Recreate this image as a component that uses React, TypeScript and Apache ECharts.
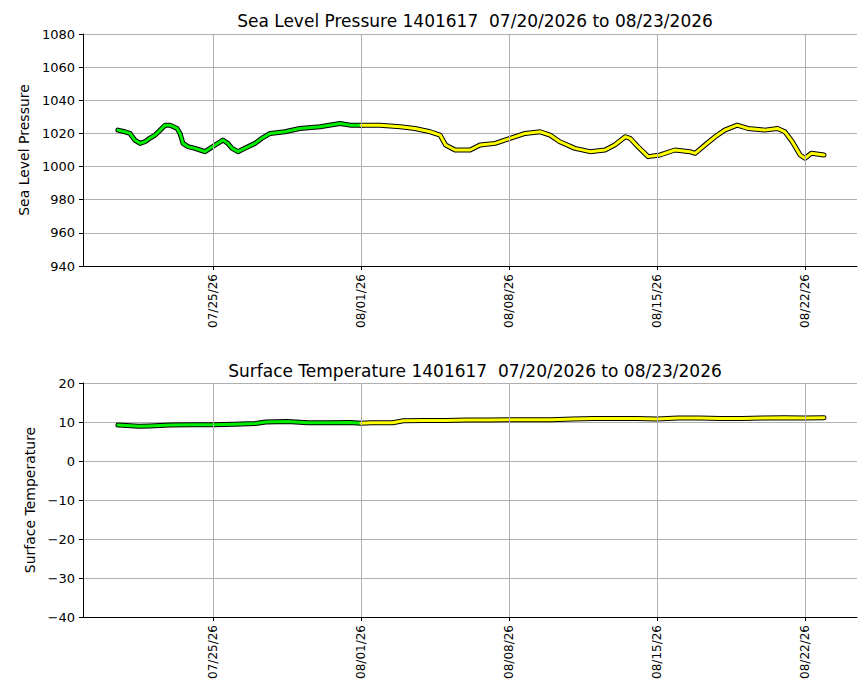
import React, { useEffect, useRef } from 'react';
import * as echarts from 'echarts';

// days since 07/20/2026 00:00
const pressDays = [0.5, 0.83, 1.07, 1.3, 1.55, 1.78, 2.0, 2.26, 2.5, 2.73, 2.97, 3.3, 3.44, 3.58, 3.82, 4.15, 4.39, 4.62, 4.86, 5.1, 5.47, 5.7, 5.9, 6.18, 6.5, 6.99, 7.3, 7.7, 8.4, 9.1, 10.06, 11.0, 11.48, 12.0, 12.9, 13.85, 14.55, 15.27, 15.74, 16.0, 16.45, 17.16, 17.63, 18.34, 19.05, 19.76, 20.47, 20.94, 21.4, 22.12, 22.83, 23.54, 24.0, 24.5, 24.73, 25.1, 25.58, 26.15, 26.85, 27.56, 27.8, 28.27, 28.75, 29.2, 29.79, 30.3, 31.1, 31.7, 32.05, 32.4, 32.77, 33.0, 33.3, 33.9];
const pressVals = [1022, 1021, 1020, 1016, 1014, 1015, 1017, 1019, 1022, 1025, 1025, 1023, 1020, 1014, 1012, 1011, 1010, 1009, 1011, 1013, 1016, 1014, 1011, 1009, 1011, 1014, 1017, 1020, 1021, 1023, 1024, 1026, 1025, 1025, 1025, 1024, 1023, 1021, 1019, 1013, 1010, 1010, 1013, 1014, 1017, 1020, 1021, 1019, 1015, 1011, 1009, 1010, 1013, 1018, 1017, 1012, 1006, 1007, 1010, 1009, 1008, 1013, 1018, 1022, 1025, 1023, 1022, 1023, 1021, 1015, 1007, 1005, 1008, 1007];
const tempDays = [0.5, 1.5, 2, 3, 4, 5, 6, 7, 7.5, 8.5, 9.5, 10.5, 11.5, 12, 12.5, 13.5, 14, 15, 16, 17, 18, 19, 20, 21, 22, 23, 24, 25, 26, 27, 28, 29, 30, 31, 32, 33, 33.9];
const tempVals = [9.2, 8.9, 9.0, 9.2, 9.3, 9.3, 9.4, 9.6, 10.0, 10.1, 9.8, 9.8, 9.9, 9.7, 9.8, 9.8, 10.3, 10.4, 10.4, 10.5, 10.5, 10.6, 10.6, 10.6, 10.8, 10.9, 10.9, 10.9, 10.8, 11.0, 11.0, 10.9, 10.9, 11.0, 11.1, 11.0, 11.1];
const tickDays = [5, 12, 19, 26, 33];
const splitDay = 12;

const FONT = 'DejaVu Sans';

const fmtDay = (d: number) => {
  const t = new Date(Date.UTC(2026, 6, 20) + d * 86400000);
  const mm = String(t.getUTCMonth() + 1).padStart(2, '0');
  const dd = String(t.getUTCDate()).padStart(2, '0');
  return `${mm}/${dd}/26`;
};

const split = (days: number[], vals: number[]) => {
  const g: number[][] = [];
  const y: number[][] = [];
  days.forEach((d, i) => {
    if (d <= splitDay) g.push([d, vals[i]]);
    if (d >= splitDay) y.push([d, vals[i]]);
  });
  return [g, y];
};

export default function App() {
  const ref = useRef<HTMLDivElement>(null);

  useEffect(() => {
    if (!ref.current) return;
    const chart = echarts.init(ref.current, undefined, { renderer: 'svg' });
    const [pg, py] = split(pressDays, pressVals);
    const [tg, ty] = split(tempDays, tempVals);
    const tops = [34, 383];
    const heights = [232, 234];

    const xAxis = [0, 1].map((i) => ({
      type: 'value',
      gridIndex: i,
      min: -1.15,
      max: 35.46,
      splitLine: { show: false },
      axisLine: { onZero: false, lineStyle: { color: '#000' } },
      axisTick: { customValues: tickDays, lineStyle: { color: '#000' }, length: 4 },
      axisLabel: {
        customValues: tickDays,
        rotate: 90,
        formatter: (v: number) => fmtDay(v),
        color: '#000',
        fontFamily: FONT,
        fontSize: 12,
      },
    }));

    const yAxis = [
      { min: 940, max: 1080, interval: 20, name: 'Sea Level Pressure' },
      { min: -40, max: 20, interval: 10, name: 'Surface Temperature' },
    ].map((a, i) => ({
      type: 'value',
      gridIndex: i,
      min: a.min,
      max: a.max,
      interval: a.interval,
      name: a.name,
      nameLocation: 'middle',
      nameGap: i === 0 ? 52 : 46,
      nameTextStyle: { color: '#000', fontFamily: FONT, fontSize: 14 },
      axisLine: { show: true, onZero: false, lineStyle: { color: '#000' } },
      axisTick: { show: true, length: 4, lineStyle: { color: '#000' } },
      axisLabel: {
        color: '#000',
        fontFamily: FONT,
        fontSize: 13,
        formatter: (v: number) => String(v).replace('-', '\u2212'),
      },
      splitLine: { lineStyle: { color: '#b0b0b0' } },
    }));

    const line = (data: number[][], idx: number, color: string, width: number, z: number) => ({
      type: 'line',
      xAxisIndex: idx,
      yAxisIndex: idx,
      data,
      symbol: 'none',
      z,
      lineStyle: { color, width, join: 'round', cap: 'round' },
    });

    const series: any[] = [];
    [[pg, py], [tg, ty]].forEach(([g, y], i) => {
      series.push({
        type: 'line',
        xAxisIndex: i,
        yAxisIndex: i,
        data: [],
        z: 1,
        markLine: {
          silent: true,
          symbol: 'none',
          label: { show: false },
          lineStyle: { type: 'solid', color: '#b0b0b0', width: 1 },
          data: tickDays.map((d) => ({ xAxis: d })),
        },
      });
      series.push(line(g, i, '#000', 5, 2));
      series.push(line(y, i, '#000', 5, 2));
      series.push(line(g, i, '#00ee00', 3, 3));
      series.push(line(y, i, '#ffff00', 3, 3));
    });

    chart.setOption({
      animation: false,
      title: [
        { text: 'Sea Level Pressure 1401617  07/20/2026 to 08/23/2026', top: 7 },
        { text: 'Surface Temperature 1401617  07/20/2026 to 08/23/2026', top: 357 },
      ].map((t) => ({
        ...t,
        left: 470,
        textAlign: 'center',
        textStyle: { color: '#000', fontFamily: FONT, fontSize: 17, fontWeight: 'normal' },
      })),
      grid: tops.map((top, i) => ({ left: 83, width: 774, top, height: heights[i], containLabel: false })),
      xAxis,
      yAxis,
      series,
    });

    return () => chart.dispose();
  }, []);

  return (
    <div
      ref={ref}
      style={{ position: 'absolute', left: 0, top: 0, width: 867, height: 700, background: '#fff' }}
    />
  );
}
